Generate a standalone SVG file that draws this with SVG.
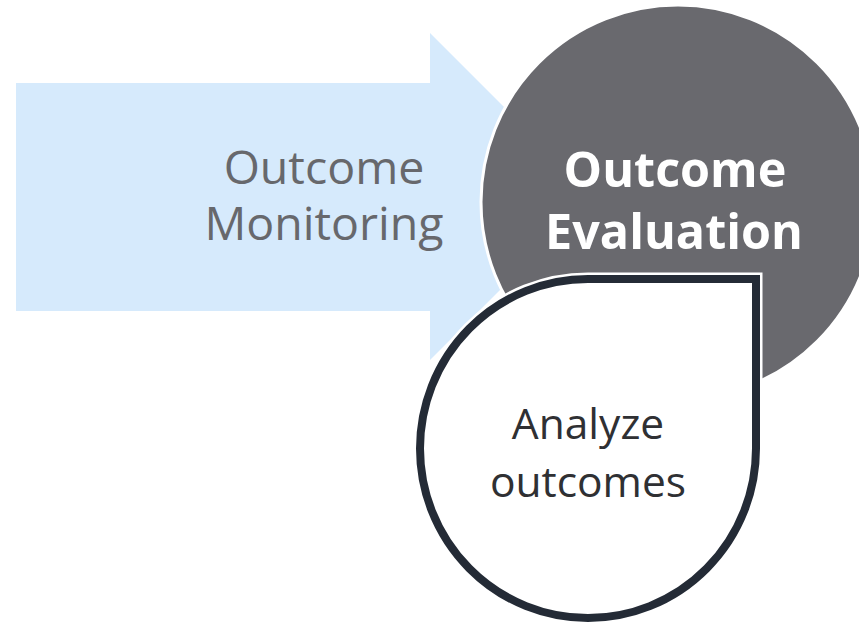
<svg xmlns="http://www.w3.org/2000/svg" width="859" height="627" viewBox="0 0 859 627">
<style>
.lbl{font-family:"Open Sans","Liberation Sans",sans-serif;text-anchor:middle}
.mon{font-size:46.5px;fill:#67686c}
.eval{font-size:48.5px;font-weight:bold;fill:#ffffff}
.ana{font-size:42.5px;fill:#2f3033}
</style>
<rect width="859" height="627" fill="#ffffff"/>
<g id="monitoring">
<path d="M16,83 H430 V33 L593.5,196.5 L430,360 V311 H16 Z" fill="#d6eafc"/>
<text class="lbl mon" x="324" y="184">Outcome</text>
<text class="lbl mon" x="324" y="240">Monitoring</text>
</g>
<g id="evaluation">
<circle cx="678" cy="202" r="197" fill="#69696e" stroke="#ffffff" stroke-width="3"/>
<text class="lbl eval" x="675" y="187">Outcome</text>
<text class="lbl eval" x="674" y="249">Evaluation</text>
</g>
<g id="analyze">
<path d="M588,279 H756 V448.5 A168 169.5 0 1 1 588,279 Z" fill="#ffffff" stroke="#ffffff" stroke-width="13" stroke-linejoin="miter"/>
<path d="M588,279 H756 V448.5 A168 169.5 0 1 1 588,279 Z" fill="#ffffff" stroke="#242b36" stroke-width="8" stroke-linejoin="miter"/>
<text class="lbl ana" x="588" y="439">Analyze</text>
<text class="lbl ana" x="588" y="497">outcomes</text>
</g>
<g id="connectors"/>
</svg>
